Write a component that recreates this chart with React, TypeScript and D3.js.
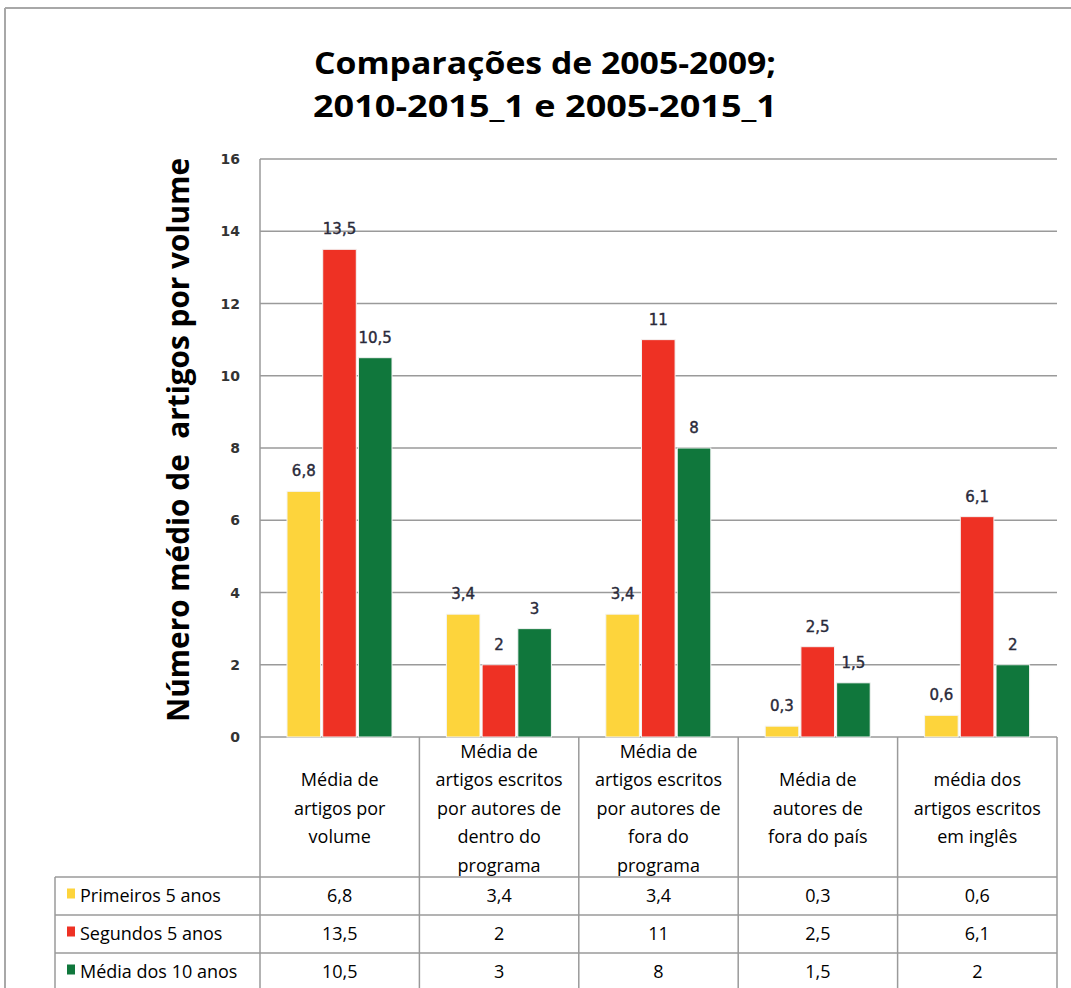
import React from "react";
import * as d3 from "d3";

const categories = [
  "Média de|artigos por|volume",
  "Média de|artigos escritos|por autores de|dentro do|programa",
  "Média de|artigos escritos|por autores de|fora do|programa",
  "Média de|autores de|fora do país",
  "média dos|artigos escritos|em inglês",
];
const seriesNames = ["Primeiros 5 anos", "Segundos 5 anos", "Média dos 10 anos"];
const primeiros = [6.8, 3.4, 3.4, 0.3, 0.6];
const segundos = [13.5, 2, 11, 2.5, 6.1];
const mediaDez = [10.5, 3, 8, 1.5, 2];
const yTicks = [0, 2, 4, 6, 8, 10, 12, 14, 16];
const colors = ["#FDD43C", "#EE3124", "#10773C"];

const W = 1071;
const H = 988;
const left = 260;
const right = 1057;
const top = 159;
const bottom = 737;

const fmt = (v: number) => String(v).replace(".", ",");

const App = () => {
  const allSeries = [primeiros, segundos, mediaDez];
  const y = d3.scaleLinear().domain([0, 16]).range([bottom, top]);
  const x0 = d3
    .scaleBand<number>()
    .domain(d3.range(categories.length))
    .range([left, right]);
  const x1 = d3
    .scaleBand<number>()
    .domain(d3.range(seriesNames.length))
    .range([27, 132])
    .paddingInner(0.06);

  const lineH = 28.5;
  const headCenter = 808.5;
  const rowTops = [877, 915, 953];
  const rowH = 37;
  const grid = "#9a9a9a";
  const font = "'Open Sans', sans-serif";
  const numFont = "'DejaVu Sans', Verdana, sans-serif";
  const tableSize = 18;

  return (
    <svg width={W} height={H} style={{ position: "absolute", left: 0, top: 0 }}>
      <rect x={0} y={0} width={W} height={H} fill="#fff" />
      {/* outer frame */}
      <line x1={5} x2={W} y1={8} y2={8} stroke="#a8a8a8" strokeWidth={2} />
      <line x1={5} x2={5} y1={8} y2={H} stroke="#a8a8a8" strokeWidth={2} />

      {/* title */}
      <text
        x={545}
        y={74}
        textAnchor="middle"
        fontFamily={font}
        fontWeight="bold"
        fontSize={31}
        fill="#000"
        textLength={462}
        lengthAdjust="spacingAndGlyphs"
      >
        Comparações de 2005-2009;
      </text>
      <text
        x={545}
        y={117}
        textAnchor="middle"
        fontFamily={font}
        fontWeight="bold"
        fontSize={31}
        fill="#000"
        textLength={464}
        lengthAdjust="spacingAndGlyphs"
      >
        2010-2015_1 e 2005-2015_1
      </text>

      {/* y title */}
      <text
        transform={`translate(189, ${(158 + 722) / 2}) rotate(-90)`}
        textAnchor="middle"
        fontFamily={font}
        fontWeight="bold"
        fontSize={31}
        fill="#000"
        textLength={564}
        lengthAdjust="spacingAndGlyphs"
        style={{ whiteSpace: "pre" }}
      >
        {"Número médio de  artigos por volume"}
      </text>

      {/* gridlines */}
      {yTicks.map((t) => (
        <g key={t}>
          <line x1={left} x2={right} y1={y(t)} y2={y(t)} stroke={grid} strokeWidth={1.5} />
          <text
            x={240}
            y={y(t) + 5}
            textAnchor="end"
            fontFamily={numFont}
            fontWeight="bold"
            fontSize={14}
            fill="#333"
          >
            {t}
          </text>
        </g>
      ))}
      <line x1={left} x2={left} y1={top} y2={bottom} stroke={grid} strokeWidth={1.5} />

      {/* bars */}
      {allSeries.map((vals, si) => (
        <g key={si}>
          {vals.map((v, ci) => {
            const bx = (x0(ci) as number) + (x1(si) as number);
            return (
              <g key={ci}>
                <rect
                  x={bx}
                  y={y(v)}
                  width={x1.bandwidth()}
                  height={y(0) - y(v)}
                  fill={colors[si]}
                  stroke="#f4f4f4"
                  strokeWidth={1}
                />
                <text
                  x={bx + x1.bandwidth() / 2}
                  y={y(v) - 15}
                  textAnchor="middle"
                  fontFamily={numFont}
                  fontSize={15}
                  fill="#2a2a3a"
                  stroke="#2a2a3a"
                  strokeWidth={0.4}
                >
                  {fmt(v)}
                </text>
              </g>
            );
          })}
        </g>
      ))}

      {/* data table header */}
      {categories.map((c, ci) => {
        const lines = c.split("|");
        const cx = (x0(ci) as number) + x0.bandwidth() / 2;
        const first = headCenter - ((lines.length - 1) / 2) * lineH;
        return (
          <g key={ci}>
            {lines.map((l, li) => (
              <text
                key={li}
                x={cx}
                y={first + li * lineH + 6}
                textAnchor="middle"
                fontFamily={font}
                fontSize={tableSize}
                fill="#000"
              >
                {l}
              </text>
            ))}
          </g>
        );
      })}

      {/* table lines */}
      {d3.range(categories.length + 1).map((i) => {
        const xx = i < categories.length ? (x0(i) as number) : right;
        return <line key={i} x1={xx} x2={xx} y1={bottom} y2={H} stroke={grid} strokeWidth={1.5} />;
      })}
      <line x1={55} x2={55} y1={rowTops[0]} y2={H} stroke={grid} strokeWidth={1.5} />
      {[...rowTops, rowTops[2] + rowH + 1].map((ry, i) => (
        <line key={i} x1={55} x2={right} y1={ry} y2={ry} stroke={grid} strokeWidth={1.5} />
      ))}

      {/* table rows */}
      {allSeries.map((vals, si) => {
        const cy = rowTops[si] + rowH / 2;
        return (
          <g key={si}>
            <rect x={67} y={cy - 7} width={8} height={10} fill={colors[si]} />
            <text x={80} y={cy + 6} fontFamily={font} fontSize={tableSize} fill="#000">
              {seriesNames[si]}
            </text>
            {vals.map((v, ci) => (
              <text
                key={ci}
                x={(x0(ci) as number) + x0.bandwidth() / 2}
                y={cy + 6}
                textAnchor="middle"
                fontFamily={font}
                fontSize={tableSize}
                fill="#000"
              >
                {fmt(v)}
              </text>
            ))}
          </g>
        );
      })}
    </svg>
  );
};

export default App;
